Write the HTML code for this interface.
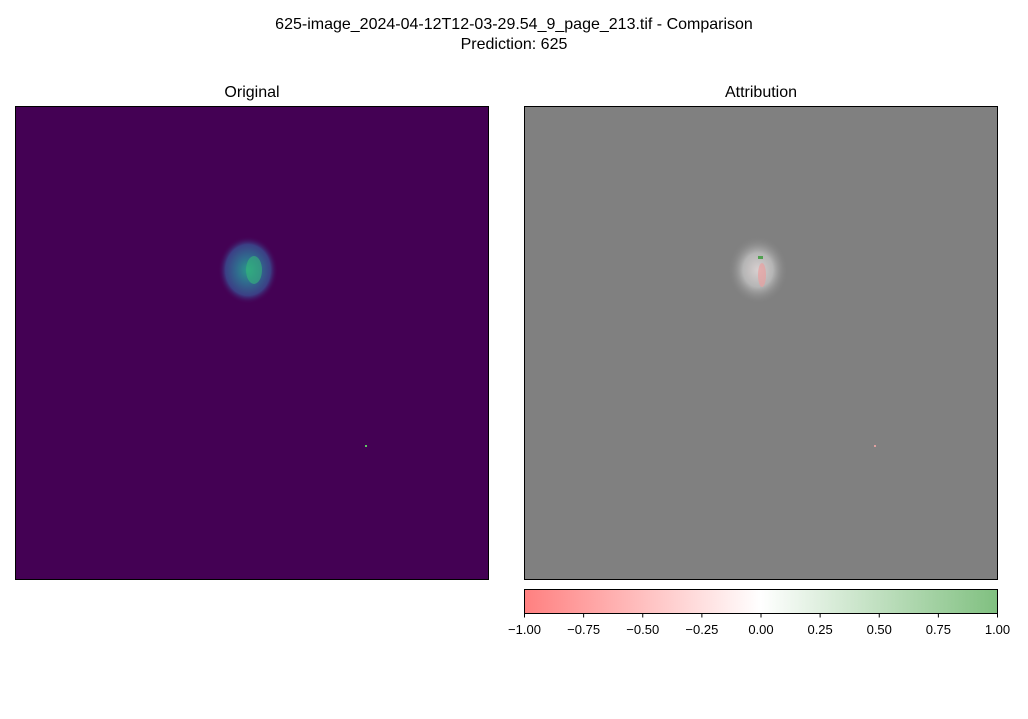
<!DOCTYPE html>
<html><head><meta charset="utf-8"><style>
body{margin:0;width:1028px;height:719px;background:#fff;font-family:"Liberation Sans","DejaVu Sans",sans-serif;position:relative;overflow:hidden}
.t{position:absolute;font-size:16px;color:#000;text-align:center}
</style></head><body>
<div class="t" style="left:0;width:1028px;top:15px;line-height:20px">625-image_2024-04-12T12-03-29.54_9_page_213.tif - Comparison<br>Prediction: 625</div>
<div class="t" style="left:15px;width:474px;top:84px">Original</div>
<div class="t" style="left:524px;width:474px;top:84px">Attribution</div>
<svg width="1028" height="719" style="position:absolute;left:0;top:0">
<defs>
<radialGradient id="g1" cx="0.5" cy="0.5" r="0.5">
<stop offset="0" stop-color="#2a9a8a"/><stop offset="0.4" stop-color="#31688e"/><stop offset="0.75" stop-color="#3b3f85"/><stop offset="1" stop-color="#440154" stop-opacity="0"/>
</radialGradient>
<radialGradient id="g2" cx="0.5" cy="0.5" r="0.5">
<stop offset="0" stop-color="#d8d0d0"/><stop offset="0.5" stop-color="#b5b5b5"/><stop offset="1" stop-color="#808080" stop-opacity="0"/>
</radialGradient>
<linearGradient id="cb" x1="0" x2="1">
<stop offset="0" stop-color="#ff8080"/><stop offset="0.5" stop-color="#ffffff"/><stop offset="1" stop-color="#80c080"/>
</linearGradient>
</defs>
<g>
<rect x="15.5" y="106.5" width="473" height="473" fill="#440154" stroke="#000"/>
<ellipse cx="248" cy="270" rx="30" ry="34" fill="url(#g1)"/>
<ellipse cx="254" cy="270" rx="8" ry="14" fill="#35b779" opacity="0.6"/>
<rect x="365" y="445" width="2" height="2" fill="#5ec962"/>
</g>
<g>
<rect x="524.5" y="106.5" width="473" height="473" fill="#808080" stroke="#000"/>
<ellipse cx="758" cy="270" rx="30" ry="34" fill="url(#g2)"/>
<ellipse cx="762" cy="275" rx="4" ry="12" fill="#e8a0a0" opacity="0.7"/>
<rect x="758" y="256" width="5" height="3" fill="#50a050"/>
<rect x="874" y="445" width="2" height="2" fill="#e0a0a0"/>
</g>
<g id="cbar">
<rect x="524.5" y="589.5" width="473" height="24" fill="url(#cb)" stroke="#000"/>
</g>
</svg>
<script>
const tickValues=[-1,-0.75,-0.5,-0.25,0,0.25,0.5,0.75,1];
const tickLabels=["\u22121.00","\u22120.75","\u22120.50","\u22120.25","0.00","0.25","0.50","0.75","1.00"];
const g=document.getElementById('cbar');
const ns='http://www.w3.org/2000/svg';
function xs(v){return 524.5+(v+1)/2*473;}
tickValues.forEach((v,i)=>{
 const l=document.createElementNS(ns,'line');
 l.setAttribute('x1',xs(v));l.setAttribute('x2',xs(v));l.setAttribute('y1',613.5);l.setAttribute('y2',617.5);l.setAttribute('stroke','#000');
 
 
 g.appendChild(l);
 const t=document.createElementNS(ns,'text');
 t.setAttribute('x',xs(v));t.setAttribute('y',634);t.setAttribute('text-anchor','middle');t.setAttribute('font-size','13');
 t.setAttribute('font-family','Liberation Sans, DejaVu Sans, sans-serif');
 t.textContent=tickLabels[i];
 
 
 g.appendChild(t);
});
</script>
</body></html>
